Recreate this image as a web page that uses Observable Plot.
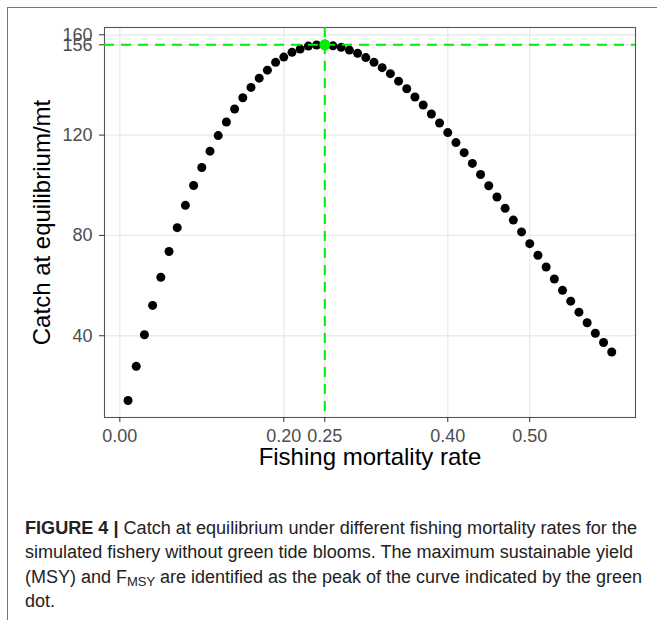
<!DOCTYPE html>
<html><head><meta charset="utf-8">
<script src="https://cdn.jsdelivr.net/npm/d3@7"></script>
<script src="https://cdn.jsdelivr.net/npm/@observablehq/plot@0.6"></script>
<style>
html,body{margin:0;padding:0;background:#fff;overflow:hidden;}
#wrap{position:relative;width:657px;height:620px;overflow:hidden;font-family:"Liberation Sans",Arial,sans-serif;}
#box{position:absolute;left:7px;top:7px;width:700px;height:700px;border:1.5px solid #777;}
#chart{position:absolute;left:0;top:0;}
#caption{position:absolute;left:25px;top:515.7px;font-size:18px;color:#222;}
.line{height:24.6px;line-height:24.6px;white-space:nowrap;}
.line span{display:inline-block;transform-origin:0 50%;}
sub{font-size:13px;vertical-align:-3px;line-height:0;}
</style></head><body>
<div id="wrap"><div id="box"></div><div id="chart"></div><div id="caption"></div></div>
<script>
const fishingRate = [0.01,0.02,0.03,0.04,0.05,0.06,0.07,0.08,0.09,0.10,
  0.11,0.12,0.13,0.14,0.15,0.16,0.17,0.18,0.19,0.20,
  0.21,0.22,0.23,0.24,0.25,0.26,0.27,0.28,0.29,0.30,
  0.31,0.32,0.33,0.34,0.35,0.36,0.37,0.38,0.39,0.40,
  0.41,0.42,0.43,0.44,0.45,0.46,0.47,0.48,0.49,0.50,
  0.51,0.52,0.53,0.54,0.55,0.56,0.57,0.58,0.59,0.60];
const catchEq = [14.2,27.8,40.4,52.1,63.3,73.6,83.1,92.0,99.9,107.1,
  113.6,119.8,125.2,130.4,134.9,139.0,142.7,145.9,149.0,151.1,
  153.0,154.3,155.5,155.9,156.2,155.6,155.0,153.9,152.6,150.9,
  149.0,146.9,144.5,141.5,138.5,135.2,132.0,128.4,124.8,121.0,
  117.0,113.0,108.7,104.3,99.8,95.3,90.8,86.1,81.4,76.7,
  72.1,67.4,62.6,58.1,53.8,49.4,45.2,41.0,37.3,33.5];
const xTicks = [0, 0.20, 0.25, 0.40, 0.50];
const yTicks = [40, 80, 120, 156, 160];
const fMSY = [0.25];
const MSY = [156];
const xTitle = "Fishing mortality rate";
const yTitle = "Catch at equilibrium/mt";
const captionLines = [
  "<b>FIGURE 4 |</b> Catch at equilibrium under different fishing mortality rates for the",
  "simulated fishery without green tide blooms. The maximum sustainable yield",
  "(MSY) and F<sub>MSY</sub> are identified as the peak of the curve indicated by the green",
  "dot."
];
const captionWidths = [612, 608, 617, null];

const data = fishingRate.map((f, i) => ({f, c: catchEq[i]}));
const peak = [{f: fMSY[0], c: MSY[0]}];
const green = "#00ee00";

const chart = Plot.plot({
  width: 657, height: 480,
  marginLeft: 104, marginRight: 22, marginTop: 27, marginBottom: 63,
  style: {fontFamily: "Liberation Sans, Arial, sans-serif", background: "transparent", overflow: "visible"},
  x: {domain: [-0.0187, 0.629]},
  y: {domain: [7.4, 162.9]},
  marks: [
    Plot.ruleX(xTicks, {stroke: "#ebebeb", strokeWidth: 1.4}),
    Plot.ruleY(yTicks, {stroke: "#ebebeb", strokeWidth: 1.4}),
    Plot.frame({stroke: "#555", strokeWidth: 1.1}),
    Plot.axisX({ticks: xTicks, tickFormat: d3.format(".2f"), tickSize: 5, tickPadding: 7,
      fontSize: 18, fill: "#4d4d4d", stroke: "#333", label: null}),
    Plot.axisY({ticks: yTicks, tickFormat: d3.format("d"), tickSize: 5, tickPadding: 7,
      fontSize: 18, fill: "#4d4d4d", stroke: "#333", label: null}),
    Plot.dot(data, {x: "f", y: "c", r: 4.5, fill: "black", stroke: "none"}),
    Plot.ruleX(fMSY, {stroke: green, strokeWidth: 2, strokeDasharray: "10,7"}),
    Plot.ruleY(MSY, {stroke: green, strokeWidth: 2, strokeDasharray: "10,7"}),
    Plot.dot(peak, {x: "f", y: "c", r: 5.5, fill: green, stroke: "none"}),
    Plot.text([xTitle], {frameAnchor: "bottom", dy: 47, fontSize: 24, fill: "black"}),
    Plot.text([yTitle], {frameAnchor: "left", textAnchor: "middle", lineAnchor: "middle",
      dx: -62.5, rotate: -90, fontSize: 24, fill: "black"})
  ]
});
document.getElementById("chart").appendChild(chart);

const cap = document.getElementById("caption");
captionLines.forEach((html, i) => {
  const div = document.createElement("div");
  div.className = "line";
  const span = document.createElement("span");
  span.innerHTML = html;
  div.appendChild(span);
  cap.appendChild(div);
  const w = captionWidths[i];
  if (w) {
    const actual = span.getBoundingClientRect().width;
    span.style.transform = `scaleX(${w / actual})`;
  }
});
</script>
</body></html>
